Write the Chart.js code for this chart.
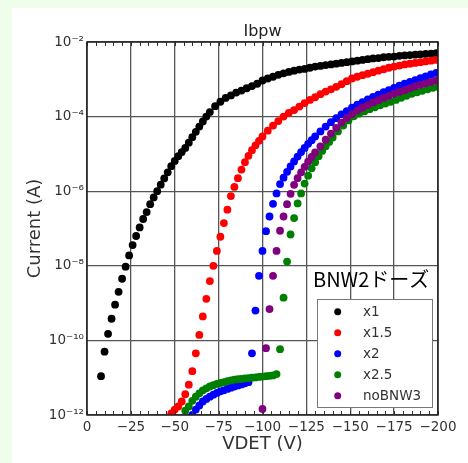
<!DOCTYPE html>
<html>
<head>
<meta charset="utf-8">
<script src="https://cdn.jsdelivr.net/npm/chart.js@4.4.1/dist/chart.umd.min.js"></script>
<style>
  html, body { margin: 0; padding: 0; background: #effeea; }
  #wrap { width: 468px; height: 463px; }
</style>
</head>
<body>
<div id="wrap"><canvas id="ivChart" width="468" height="463"></canvas></div>
<script>
// Series names / colours (legend order)
const seriesNames = ['x1', 'x1.5', 'x2', 'x2.5', 'noBNW3'];
const seriesColors = ['#000000', '#ff0000', '#0000ff', '#008000', '#800080'];
const legendTitle = 'BNW2ドーズ';

// Tick values
const xTicks = [0, -25, -50, -75, -100, -125, -150, -175, -200];
const yTicks = [1e-12, 1e-10, 1e-8, 1e-6, 1e-4, 1e-2];

// x1
const vdetX1 = [-8, -10, -12, -14, -16, -18, -20, -22, -24, -26, -28, -30, -32, -34, -36, -38, -40,
  -42, -44, -46, -48, -50, -52, -54, -56, -58, -60, -62, -64, -66, -68,
  -70, -73, -76, -79, -82, -85, -88, -91, -94, -97, -100, -103, -106, -109, -112, -115, -118, -121,
  -124, -127, -130, -133, -136, -139, -142, -145, -148, -151, -154, -157, -160, -163, -166, -169,
  -172, -175, -178, -181, -184, -187, -190, -193, -196, -199];
const curX1 = [1.1e-11, 5.0e-11, 1.5e-10, 3.8e-10, 9.1e-10, 2.0e-9, 4.5e-9, 9.5e-9, 1.9e-8, 3.6e-8,
  6.3e-8, 1.07e-7, 1.8e-7, 2.75e-7, 4.5e-7, 6.8e-7, 1.0e-6, 1.5e-6, 2.2e-6, 3.2e-6, 4.7e-6, 6.5e-6,
  8.7e-6, 1.12e-5, 1.45e-5, 2.0e-5, 2.8e-5, 3.9e-5, 5.4e-5, 7.4e-5, 1.0e-4,
  1.32e-4, 1.9e-4, 2.5e-4, 3.16e-4, 3.7e-4, 4.4e-4, 5.0e-4, 5.75e-4, 6.6e-4, 7.6e-4, 9.3e-4, 1.05e-3,
  1.17e-3, 1.32e-3, 1.45e-3, 1.58e-3, 1.7e-3, 1.82e-3, 1.9e-3, 2.04e-3, 2.19e-3, 2.29e-3, 2.4e-3,
  2.5e-3, 2.63e-3, 2.75e-3, 2.88e-3, 3.02e-3, 3.16e-3, 3.3e-3, 3.47e-3, 3.63e-3, 3.7e-3, 3.9e-3,
  4.0e-3, 4.07e-3, 4.27e-3, 4.37e-3, 4.47e-3, 4.57e-3, 4.68e-3, 4.79e-3, 4.9e-3, 5.0e-3];

// x1.5
const vdetX15 = [-48, -50, -52, -54, -56, -58, -60, -62, -64, -66, -68, -70, -72, -74, -76, -78, -80,
  -82, -84, -86, -88, -90, -92, -94, -96, -98, -100, -103, -106, -109, -112, -115, -118, -121, -124,
  -127, -130, -133, -136, -139, -142, -145, -148, -151, -154, -157, -160, -163, -166, -169, -172,
  -175, -178, -181, -184, -187, -190, -193, -196, -199];
const curX15 = [1.1e-12, 1.4e-12, 1.7e-12, 2.3e-12, 3.6e-12, 6.5e-12, 1.5e-11, 4.5e-11, 1.4e-10,
  4.4e-10, 1.3e-9, 3.9e-9, 1.0e-8, 2.5e-8, 6.0e-8, 1.4e-7, 3.2e-7, 7.4e-7, 1.3e-6, 2.24e-6, 3.8e-6,
  6.0e-6, 8.9e-6, 1.26e-5, 1.7e-5, 2.24e-5, 2.95e-5, 4.2e-5, 5.75e-5, 7.6e-5, 1.0e-4, 1.26e-4, 1.5e-4,
  1.86e-4, 2.3e-4, 2.8e-4, 3.3e-4, 4.0e-4, 4.7e-4, 5.4e-4, 6.3e-4, 7.4e-4, 8.9e-4, 1.05e-3, 1.17e-3,
  1.29e-3, 1.41e-3, 1.55e-3, 1.7e-3, 1.86e-3, 2.04e-3, 2.19e-3, 2.34e-3, 2.5e-3, 2.63e-3, 2.75e-3,
  2.88e-3, 3.02e-3, 3.16e-3, 3.3e-3];

// x2
const vdetX2 = [-60, -62, -64, -66, -68, -70, -72, -74, -76, -78, -80, -82, -84, -86, -88, -90, -92,
  -94, -96, -98, -100, -102, -104, -106, -108, -110, -112, -114, -116, -118, -120, -122, -124, -126,
  -128, -130, -133, -136, -139, -142, -145, -148, -151, -154, -157, -160, -163, -166, -169, -172,
  -175, -178, -181, -184, -187, -190, -193, -196, -199];
const curX2 = [1.0e-12, 1.4e-12, 1.8e-12, 2.3e-12, 2.7e-12, 3.1e-12, 3.5e-12, 3.9e-12, 4.3e-12,
  4.6e-12, 5.0e-12, 5.4e-12, 5.8e-12, 6.2e-12, 6.6e-12, 7.1e-12, 7.6e-12,
  4.5e-11, 6.3e-10, 5.4e-9, 2.5e-8, 8.5e-8, 2.1e-7, 4.6e-7, 8.7e-7, 1.55e-6, 2.3e-6, 3.3e-6, 4.6e-6,
  6.3e-6, 8.5e-6, 1.12e-5, 1.45e-5, 1.86e-5, 2.34e-5, 2.95e-5, 4.0e-5, 5.4e-5, 7.1e-5, 9.1e-5,
  1.15e-4, 1.41e-4, 1.74e-4, 2.1e-4, 2.45e-4, 2.9e-4, 3.4e-4, 3.9e-4, 4.5e-4, 5.1e-4, 5.9e-4, 6.8e-4,
  7.6e-4, 8.5e-4, 9.5e-4, 1.07e-3, 1.2e-3, 1.35e-3, 1.48e-3];

// x2.5
const vdetX25 = [-56, -58, -60, -62, -64, -66, -68, -70, -72, -74, -76, -78, -80, -82, -84, -86, -88,
  -90, -92, -94, -96, -98, -100, -102, -104, -106, -108,
  -110, -112, -114, -116, -118, -120, -122, -124, -126, -128, -130, -132, -134, -136, -138, -140,
  -143, -146, -149, -152, -155, -158, -161, -164, -167, -170, -173, -176, -179, -182, -185, -188,
  -191, -194, -197, -200];
const curX25 = [1.3e-12, 1.7e-12, 2.4e-12, 3.1e-12, 3.8e-12, 4.6e-12, 5.2e-12, 5.8e-12, 6.3e-12,
  6.8e-12, 7.2e-12, 7.6e-12, 8.1e-12, 8.5e-12, 8.9e-12, 9.1e-12, 9.3e-12, 9.6e-12, 9.8e-12, 1.0e-11,
  1.02e-11, 1.05e-11, 1.07e-11, 1.1e-11, 1.12e-11, 1.15e-11, 1.25e-11,
  5.8e-11, 1.4e-9, 1.3e-8, 6.9e-8, 1.9e-7, 4.7e-7, 8.7e-7, 1.6e-6, 2.6e-6, 4.1e-6, 6.0e-6, 8.7e-6,
  1.2e-5, 1.6e-5, 2.1e-5, 2.75e-5,
  4.0e-5, 5.75e-5, 7.9e-5, 1.02e-4, 1.2e-4, 1.38e-4, 1.58e-4, 1.78e-4, 2.0e-4, 2.24e-4, 2.5e-4,
  2.8e-4, 3.2e-4, 3.6e-4, 4.1e-4, 4.5e-4, 4.9e-4, 5.4e-4, 5.9e-4, 6.3e-4];

// noBNW3
const vdetNo = [-100, -102, -104, -106, -108, -110, -112, -114, -116, -118, -120, -122, -124, -126,
  -128, -130, -133, -136, -139, -142, -145, -148, -151, -154, -157, -160, -163, -166, -169, -172,
  -175, -178, -181, -184, -187, -190, -193, -196, -199];
const curNo = [1.45e-12, 6.2e-11, 6.9e-10, 5.4e-9, 2.5e-8, 8.7e-8, 2.1e-7, 4.5e-7, 8.5e-7, 1.48e-6,
  2.24e-6, 3.2e-6, 4.5e-6, 6.2e-6, 8.3e-6, 1.1e-5, 1.6e-5, 2.4e-5, 3.5e-5, 5.0e-5, 6.9e-5, 9.1e-5,
  1.17e-4, 1.45e-4, 1.74e-4, 2.04e-4, 2.4e-4, 2.75e-4, 3.16e-4, 3.6e-4, 4.1e-4, 4.6e-4, 5.1e-4,
  5.75e-4, 6.5e-4, 7.1e-4, 7.8e-4, 8.5e-4, 9.3e-4];

const seriesX = [vdetX1, vdetX15, vdetX2, vdetX25, vdetNo];
const seriesY = [curX1, curX15, curX2, curX25, curNo];

function toPoints(xs, ys) {
    return xs.map((x, i) => ({ x: x, y: ys[i] }));
}

// 10^n labels with superscript exponent
const superDigits = { '0': '⁰', '1': '¹', '2': '²', '3': '³', '4': '⁴', '5': '⁵',
    '6': '⁶', '7': '⁷', '8': '⁸', '9': '⁹', '-': '⁻' };
function powerLabel(value) {
    const e = Math.round(Math.log10(value));
    return '10' + String(e).split('').map(c => superDigits[c]).join('');
}

const tickFont = { family: '"DejaVu Sans", sans-serif', size: 13.5 };

// Title, frame, minor ticks and the legend box
const decorPlugin = {
    id: 'decor',
    beforeDraw(chart) {
        const ctx = chart.ctx;
        ctx.save();
        ctx.fillStyle = '#ffffff';
        ctx.fillRect(12, 8, chart.width - 12, chart.height - 8);
        ctx.restore();
    },
    afterDatasetsDraw(chart) {
        const ctx = chart.ctx;
        const area = chart.chartArea;
        const xs = chart.scales.x;
        ctx.save();
        ctx.strokeStyle = '#333';
        ctx.lineWidth = 1;
        for (let v = 0; v >= -200; v -= 5) {
            const px = Math.round(xs.getPixelForValue(v)) + 0.5;
            ctx.beginPath();
            ctx.moveTo(px, area.top);
            ctx.lineTo(px, area.top + 4);
            ctx.moveTo(px, area.bottom);
            ctx.lineTo(px, area.bottom - 4);
            ctx.stroke();
        }
        ctx.lineWidth = 1.5;
        ctx.strokeStyle = '#222';
        ctx.strokeRect(area.left, area.top, area.right - area.left, area.bottom - area.top);
        ctx.restore();
    },
    afterDraw(chart) {
        const ctx = chart.ctx;
        const area = chart.chartArea;
        ctx.save();

        // title
        ctx.fillStyle = '#222';
        ctx.font = '16px "DejaVu Sans", sans-serif';
        ctx.textAlign = 'center';
        ctx.textBaseline = 'alphabetic';
        ctx.fillText('Ibpw', (area.left + area.right) / 2, 36);

        // legend box
        const boxW = 115, boxH = 108;
        const boxL = area.right - 6 - boxW;
        const boxT = area.bottom - 8 - boxH;
        ctx.fillStyle = '#ffffff';
        ctx.fillRect(boxL, boxT, boxW, boxH);
        ctx.strokeStyle = '#777';
        ctx.lineWidth = 1;
        ctx.strokeRect(Math.round(boxL) + 0.5, Math.round(boxT) + 0.5, boxW, boxH);

        ctx.font = '13.5px "DejaVu Sans", sans-serif';
        ctx.textAlign = 'left';
        ctx.textBaseline = 'middle';
        chart.data.datasets.forEach((ds, i) => {
            const rowY = boxT + 12.7 + i * 21;
            ctx.fillStyle = ds.backgroundColor;
            ctx.beginPath();
            ctx.arc(boxL + 20.7, rowY, 3.5, 0, Math.PI * 2);
            ctx.fill();
            ctx.fillStyle = '#333';
            ctx.fillText(ds.label, boxL + 46, rowY + 1);
        });

        // legend heading
        ctx.fillStyle = '#000';
        ctx.font = '20px "Noto Sans CJK JP", sans-serif';
        ctx.textBaseline = 'alphabetic';
        ctx.fillText(legendTitle, 313, 287);
        ctx.restore();
    }
};

const ctx = document.getElementById('ivChart').getContext('2d');
window.ivChart = new Chart(ctx, {
    type: 'scatter',
    data: {
        datasets: seriesNames.map((name, i) => ({
            label: name,
            data: toPoints(seriesX[i], seriesY[i]),
            backgroundColor: seriesColors[i],
            borderColor: seriesColors[i],
            pointRadius: 3.9,
            pointHoverRadius: 3.9,
            pointBorderWidth: 0,
            order: seriesNames.length - i
        }))
    },
    options: {
        responsive: false,
        animation: false,
        events: [],
        layout: { padding: { top: 42, right: 30, left: 0, bottom: 0 } },
        plugins: {
            legend: { display: false },
            tooltip: { enabled: false }
        },
        scales: {
            x: {
                type: 'linear',
                min: -200,
                max: 0,
                reverse: true,
                afterBuildTicks: s => { s.ticks = xTicks.map(v => ({ value: v })); },
                afterFit: s => { s.height = 48; },
                ticks: {
                    autoSkip: false,
                    maxRotation: 0,
                    padding: 4,
                    color: '#333',
                    font: tickFont,
                    callback: v => (v === 0 ? '0' : '\u2212' + Math.abs(v))
                },
                grid: { color: '#555', lineWidth: 1.3, drawTicks: false },
                border: { display: false },
                title: {
                    display: true,
                    text: 'VDET (V)',
                    color: '#333',
                    font: { family: '"DejaVu Sans", sans-serif', size: 18 },
                    padding: { top: 0, bottom: 8 }
                }
            },
            y: {
                type: 'logarithmic',
                min: 1e-12,
                max: 1e-2,
                afterBuildTicks: s => { s.ticks = yTicks.map(v => ({ value: v })); },
                afterFit: s => { s.width = 87; },
                ticks: {
                    autoSkip: false,
                    padding: 3,
                    color: '#333',
                    font: tickFont,
                    callback: v => powerLabel(v)
                },
                grid: { color: '#555', lineWidth: 1.3, drawTicks: false },
                border: { display: false },
                title: {
                    display: true,
                    text: 'Current (A)',
                    color: '#333',
                    font: { family: '"DejaVu Sans", sans-serif', size: 18 },
                    padding: { top: 25, bottom: 0 }
                }
            }
        }
    },
    plugins: [decorPlugin]
});
</script>
</body>
</html>
